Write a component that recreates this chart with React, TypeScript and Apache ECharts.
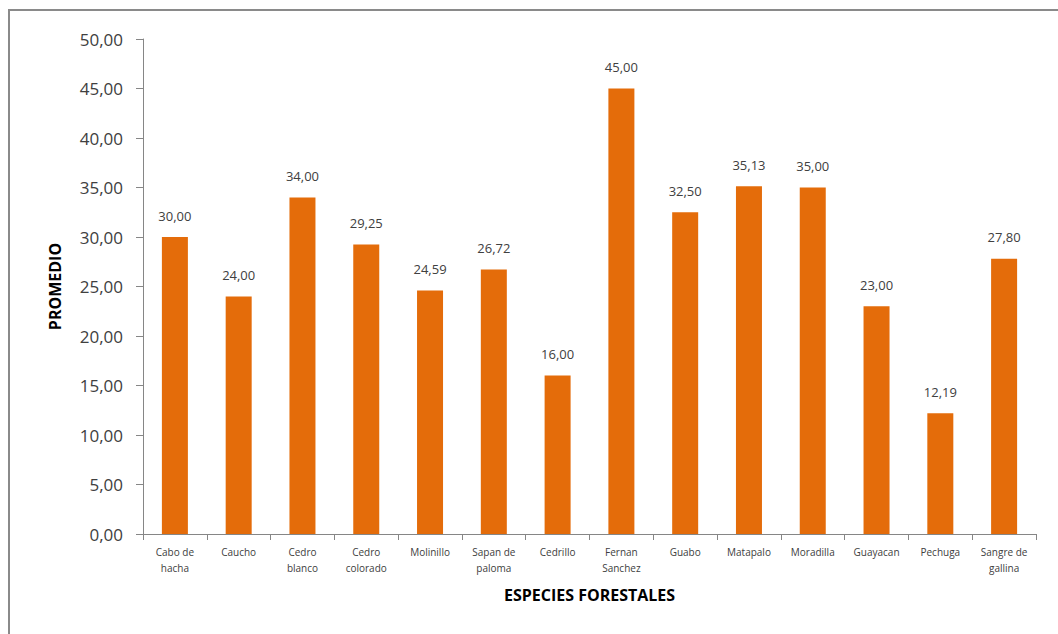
import React, { useEffect, useRef } from "react";
import * as echarts from "echarts";

// Average per forest species
const categories = [
  "Cabo de\nhacha",
  "Caucho",
  "Cedro\nblanco",
  "Cedro\ncolorado",
  "Molinillo",
  "Sapan de\npaloma",
  "Cedrillo",
  "Fernan\nSanchez",
  "Guabo",
  "Matapalo",
  "Moradilla",
  "Guayacan",
  "Pechuga",
  "Sangre de\ngallina",
];
const promedio = [30.0, 24.0, 34.0, 29.25, 24.59, 26.72, 16.0, 45.0, 32.5, 35.13, 35.0, 23.0, 12.19, 27.8];
const yMin = 0;
const yMax = 50;
const yStep = 5;

const fmt = (v: number) => v.toFixed(2).replace(".", ",");

export default function App() {
  const ref = useRef<HTMLDivElement>(null);

  useEffect(() => {
    document.body.style.margin = "0";
    const chart = echarts.init(ref.current!, undefined, { renderer: "svg" });
    const textColor = "#404040";
    const axisColor = "#868686";
    chart.setOption({
      animation: false,
      backgroundColor: "#ffffff",
      textStyle: { fontFamily: "Open Sans" },
      graphic: [
        {
          type: "rect",
          shape: { x: 9, y: 10, width: 1070, height: 650 },
          style: { fill: "none", stroke: "#8a8a8a", lineWidth: 2 },
          silent: true,
        },
      ],
      grid: { left: 143, top: 39, right: 22, bottom: 100, containLabel: false },
      xAxis: {
        type: "category",
        data: categories,
        name: "ESPECIES FORESTALES",
        nameLocation: "middle",
        nameGap: 53,
        nameTextStyle: { fontSize: 16, fontWeight: "bold", color: "#000", fontFamily: "Open Sans" },
        axisLine: { lineStyle: { color: axisColor, width: 1 } },
        axisTick: { show: true, length: 6, alignWithLabel: false, lineStyle: { color: axisColor } },
        axisLabel: {
          interval: 0,
          margin: 10,
          fontSize: 10,
          lineHeight: 16,
          color: textColor,
          fontFamily: "Open Sans",
        },
      },
      yAxis: {
        type: "value",
        min: yMin,
        max: yMax,
        interval: yStep,
        name: "PROMEDIO",
        nameLocation: "middle",
        nameGap: 80,
        nameTextStyle: { fontSize: 16, fontWeight: "bold", color: "#000", fontFamily: "Open Sans" },
        axisLine: { show: true, lineStyle: { color: axisColor, width: 1 } },
        axisTick: { show: true, length: 7, lineStyle: { color: axisColor } },
        splitLine: { show: false },
        axisLabel: {
          margin: 20,
          fontSize: 17,
          color: textColor,
          fontFamily: "Open Sans",
          formatter: (v: number) => fmt(v),
        },
      },
      series: [
        {
          type: "bar",
          data: promedio,
          barWidth: 26,
          itemStyle: { color: "#E46C0A" },
          label: {
            show: true,
            position: "top",
            distance: 15,
            fontSize: 13,
            color: textColor,
            fontFamily: "Open Sans",
            formatter: (p: any) => fmt(p.value),
          },
        },
      ],
    });
    return () => chart.dispose();
  }, []);

  return <div ref={ref} style={{ width: 1058, height: 634 }} />;
}
